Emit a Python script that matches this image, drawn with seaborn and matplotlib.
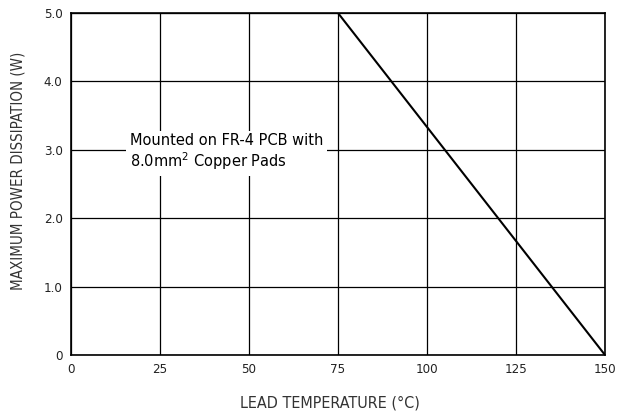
import matplotlib
matplotlib.use("Agg")
import matplotlib.pyplot as plt
import seaborn as sns
import pandas as pd

temperature = [0, 75, 150]
power = [5.0, 5.0, 0.0]
x_ticks = [0, 25, 50, 75, 100, 125, 150]
y_ticks = [0, 1, 2, 3, 4, 5]
y_tick_labels = ["0", "1.0", "2.0", "3.0", "4.0", "5.0"]

sns.set_theme(style="white")
plt.rcParams['font.family'] = ['DejaVu Sans']

df = pd.DataFrame({"temp": temperature, "power": power})

fig = plt.figure(figsize=(6.19, 4.17), dpi=100)
ax = fig.add_axes([0.1147, 0.1487, 0.8627, 0.8201])

sns.lineplot(data=df, x="temp", y="power", ax=ax, color="black", linewidth=1.5, zorder=3)

ax.set_xlim(0, 150)
ax.set_ylim(0, 5)
ax.set_xticks(x_ticks)
ax.set_xticklabels([str(t) for t in x_ticks])
ax.set_yticks(y_ticks)
ax.set_yticklabels(y_tick_labels)
ax.grid(True, color="black", linewidth=0.9)
ax.tick_params(axis="both", labelsize=9.5, colors="#222222", length=0, pad=6)
for lab in ax.get_xticklabels() + ax.get_yticklabels():
    lab.set_fontstretch("condensed")
for s in ax.spines.values():
    s.set_color("black")
    s.set_linewidth(1.2)

ax.set_xlabel("LEAD TEMPERATURE (\u00b0C)", fontsize=11.5, fontstretch="condensed", color="#333333")
ax.set_ylabel("MAXIMUM POWER DISSIPATION (W)", fontsize=10.8, fontstretch="condensed", color="#333333")
ax.xaxis.set_label_coords(0.485, -0.118)
ax.yaxis.set_label_coords(-0.086, 0.54)

ax.text(16.5, 2.96, "Mounted on FR-4 PCB with\n8.0mm$^2$ Copper Pads", fontsize=10.5,
        ha="left", va="center", color="black", zorder=4, linespacing=1.15,
        bbox=dict(facecolor="white", edgecolor="none", pad=3))

fig.savefig("out.png", dpi=100)
